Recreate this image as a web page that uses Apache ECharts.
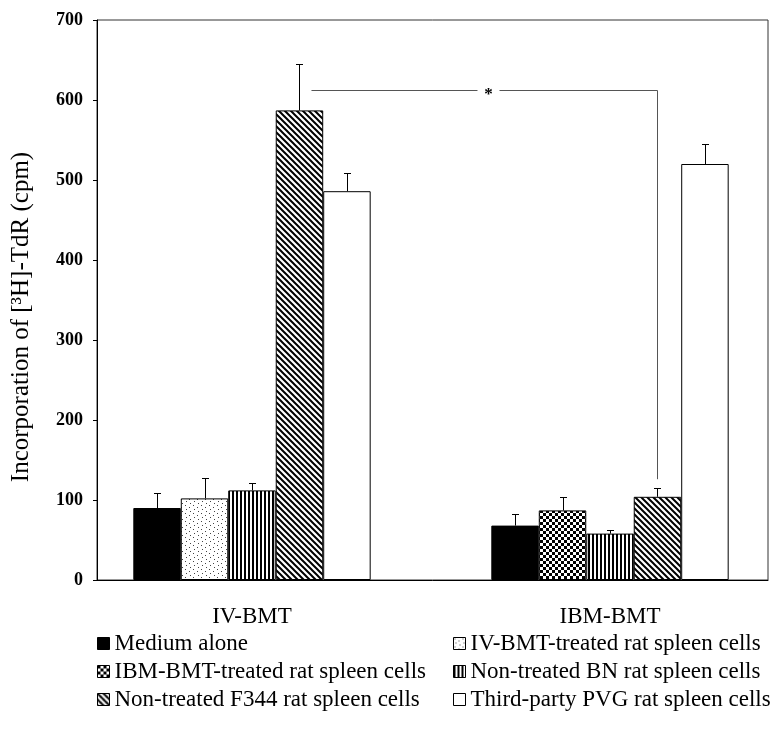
<!DOCTYPE html>
<html><head><meta charset="utf-8">
<script src="https://cdn.jsdelivr.net/npm/echarts@6/dist/echarts.min.js"></script>
<style>html,body{margin:0;padding:0;background:#fff}#c{width:774px;height:730px}</style>
</head><body><div id="c"></div>
<script>
// ---- data ----
const groups = ['IV-BMT', 'IBM-BMT'];
const seriesNames = [
  'Medium alone',
  'IV-BMT-treated rat spleen cells',
  'IBM-BMT-treated rat spleen cells',
  'Non-treated BN rat spleen cells',
  'Non-treated F344 rat spleen cells',
  'Third-party PVG rat spleen cells'
];
const mediumAlone = [90, 68];
const ivTreated   = [102, null];
const ibmTreated  = [null, 87];
const bnCells     = [112, 58];
const f344Cells   = [587, 104];
const pvgCells    = [486, 520];
const mediumErr = [19, 15];
const ivErr     = [25, null];
const ibmErr    = [null, 17];
const bnErr     = [9, 4];
const f344Err   = [58, 11];
const pvgErr    = [23, 25];
const yTicks = [0, 100, 200, 300, 400, 500, 600, 700];
const bracketTop = 613;
const bracketEnd = 126;
const bracketLabel = '*';

// ---- styles ----
const FONT = "'Liberation Serif', 'Times New Roman', serif";
const GAP = 0.337;
const SLOTS = 5;
const slotOf = [0, 1, 1, 2, 3, 4];

function makePattern(w, h, draw) {
  const c = document.createElement('canvas');
  c.width = w; c.height = h;
  const x = c.getContext('2d');
  x.fillStyle = '#fff'; x.fillRect(0, 0, w, h);
  draw(x, w, h);
  return { image: c, repeat: 'repeat' };
}
const dotted = makePattern(8, 8, x => {
  x.fillStyle = '#444';
  x.fillRect(1, 1, 1, 1); x.fillRect(5, 3, 1, 1); x.fillRect(2, 5, 1, 1); x.fillRect(6, 7, 1, 1);
});
const checker = makePattern(6, 6, x => {
  x.fillStyle = '#000';
  x.fillRect(0, 0, 3, 3); x.fillRect(3, 3, 3, 3);
});
const vstripe = makePattern(4, 4, x => {
  x.fillStyle = '#000'; x.fillRect(0, 0, 2, 4);
});
const diag = makePattern(6, 6, (x, w, h) => {
  x.strokeStyle = '#000'; x.lineWidth = 2;
  x.beginPath();
  x.moveTo(-1, -1); x.lineTo(w + 1, h + 1);
  x.moveTo(w - 1, -1); x.lineTo(w + 1, 1);
  x.moveTo(-1, h - 1); x.lineTo(1, h + 1);
  x.stroke();
});
const fills = ['#000', dotted, checker, vstripe, diag, '#fff'];
const values = [mediumAlone, ivTreated, ibmTreated, bnCells, f344Cells, pvgCells];
const errs = [mediumErr, ivErr, ibmErr, bnErr, f344Err, pvgErr];

const barSeries = seriesNames.map((name, i) => ({
  name, type: 'bar', xAxisIndex: 1, yAxisIndex: 1,
  stack: (i === 1 || i === 2) ? 'treated' : ('s' + i),
  data: values[i],
  barGap: '0%', barCategoryGap: (GAP * 100) + '%',
  itemStyle: { color: fills[i], borderColor: '#000', borderWidth: 1 },
  emphasis: { disabled: true },
  z: 2
}));

const errData = [];
values.forEach((arr, s) => arr.forEach((v, g) => {
  if (v != null) errData.push([g, v, errs[s][g], slotOf[s]]);
}));

function slotWidth(api) { return api.size([1, 0])[0] * (1 - GAP) / SLOTS; }

const errSeries = {
  type: 'custom', xAxisIndex: 1, yAxisIndex: 1, data: errData, z: 5, clip: false,
  renderItem(params, api) {
    const g = api.value(0), v = api.value(1), e = api.value(2), slot = api.value(3);
    const bw = slotWidth(api);
    const base = api.coord([g, v]);
    const top = api.coord([g, v + e]);
    const x = Math.round(base[0] + (slot - 2) * bw) + 0.5;
    const ty = Math.round(top[1]) + 0.5;
    return { type: 'group', children: [
      { type: 'line', shape: { x1: x, y1: base[1], x2: x, y2: ty }, style: { stroke: '#000', lineWidth: 1 } },
      { type: 'line', shape: { x1: x - 3.5, y1: ty, x2: x + 3.5, y2: ty }, style: { stroke: '#000', lineWidth: 1 } }
    ]};
  }
};

const bracketSeries = {
  type: 'custom', xAxisIndex: 1, yAxisIndex: 1, z: 6, clip: false,
  data: [[0, 1, bracketTop, bracketEnd]],
  renderItem(params, api) {
    const g0 = api.value(0), g1 = api.value(1), yt = api.value(2), yb = api.value(3);
    const bw = slotWidth(api);
    const lx = api.coord([g0, yt])[0] + bw + 12;
    const rx = Math.round(api.coord([g1, yt])[0] + bw) + 0.5;
    const ty = Math.round(api.coord([g1, yt])[1]) + 0.5;
    const by = api.coord([g1, yb])[1];
    const mid = (lx + rx) / 2 + 4;
    const st = { stroke: '#555', lineWidth: 1 };
    return { type: 'group', children: [
      { type: 'line', shape: { x1: lx, y1: ty, x2: mid - 11, y2: ty }, style: st },
      { type: 'polyline', shape: { points: [[mid + 11, ty], [rx, ty], [rx, by]] }, style: Object.assign({ fill: null }, st) },
      { type: 'text', x: mid, y: ty + 4, style: { text: bracketLabel, fill: '#000', font: 'bold 17px ' + FONT, align: 'center', verticalAlign: 'middle' } }
    ]};
  }
};

const legendBase = {
  orient: 'vertical', itemWidth: 12, itemHeight: 12, itemGap: 5, icon: 'rect',
  selectedMode: false, top: 632, padding: 0,
  textStyle: { fontFamily: FONT, fontSize: 23, color: '#000', lineHeight: 23 },
  itemStyle: { borderColor: '#000', borderWidth: 1 }
};

const option = {
  animation: false,
  backgroundColor: '#fff',
  grid: [
    { left: 97, right: 6, top: 20, bottom: 150, show: true, borderColor: '#333', borderWidth: 1, outerBoundsMode: 'none', containLabel: false },
    { left: 73, width: 716, top: 20, bottom: 150, outerBoundsMode: 'none', containLabel: false }
  ],
  xAxis: [
    { gridIndex: 0, type: 'value', min: 0, max: 1, axisLabel: { show: false }, axisTick: { show: false }, splitLine: { show: false },
      axisLine: { show: true, lineStyle: { color: '#000', width: 1 } } },
    { gridIndex: 1, type: 'category', data: groups, axisLine: { show: false }, axisTick: { show: false },
      axisLabel: { fontFamily: FONT, fontSize: 23, color: '#000', margin: 25 } }
  ],
  yAxis: [
    { gridIndex: 0, type: 'value', min: yTicks[0], max: yTicks[yTicks.length - 1], interval: yTicks[1] - yTicks[0],
      name: 'Incorporation of [³H]-TdR (cpm)', nameLocation: 'middle', nameGap: 63, nameRotate: 90,
      nameTextStyle: { fontFamily: FONT, fontSize: 25, color: '#000', padding: [0, 34, 0, 0] },
      axisLine: { show: true, lineStyle: { color: '#000', width: 1 } },
      axisTick: { show: true, length: 4, lineStyle: { color: '#000' } },
      splitLine: { show: false },
      axisLabel: { fontFamily: FONT, fontSize: 18, fontWeight: 'bold', color: '#000', margin: 14 } },
    { gridIndex: 1, type: 'value', min: yTicks[0], max: yTicks[yTicks.length - 1], show: false, splitLine: { show: false } }
  ],
  legend: [
    Object.assign({}, legendBase, { left: 97, data: [seriesNames[0], seriesNames[2], seriesNames[4]] }),
    Object.assign({}, legendBase, { left: 453, data: [seriesNames[1], seriesNames[3], seriesNames[5]] })
  ],
  series: barSeries.concat([errSeries, bracketSeries])
};
const chart = echarts.init(document.getElementById('c'), null, { renderer: 'canvas' });
chart.setOption(option);
</script></body></html>
